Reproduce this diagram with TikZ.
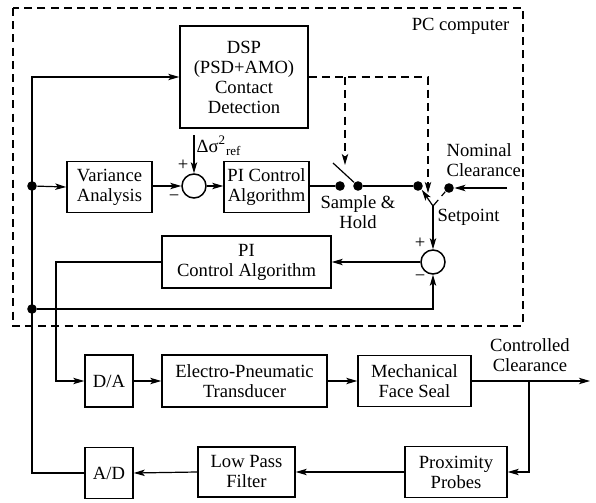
\documentclass[tikz,border=0pt]{standalone}
\usepackage{fontspec}
\setmainfont{Liberation Serif}
\usetikzlibrary{arrows.meta}
\begin{document}
\begin{tikzpicture}[x=0.5pt,y=-0.5pt,
  font=\fontsize{9.3}{10}\selectfont,
  line width=0.6pt,
  >={Stealth[length=5.5pt,width=3.2pt,inset=1.3pt]},
  blk/.style={draw,line width=0.75pt,align=center,inner sep=0pt},
  sumnode/.style={draw,line width=0.75pt,circle,minimum size=12pt,inner sep=0pt},
  dot/.style={circle,fill,inner sep=0pt,minimum size=4.8pt},
  sgn/.style={font=\fontsize{9.3}{9.3}\selectfont,inner sep=0pt},
  ctl/.style={dash pattern=on 4pt off 2.6pt},
  lbl/.style={inner sep=0pt,align=center}]
\useasboundingbox (0,0) rectangle (596,503);

% PC boundary
\draw[ctl] (13,8) rectangle (523,326);
\node[lbl,anchor=east] (pclabel) at (510,26) {PC computer};

% blocks
\node[blk,minimum width=64pt,minimum height=51pt] (dsp) at (244,77)
  {DSP\\(PSD+AMO)\\Contact\\Detection};
\node[blk,minimum width=42.5pt,minimum height=25.5pt] (va) at (109.5,187) {Variance\\Analysis};
\node[sumnode] (s1) at (194,186) {};
\node[blk,minimum width=42.5pt,minimum height=25.5pt] (pi1) at (266.5,187) {PI Control\\Algorithm};
\node[blk,minimum width=84.5pt,minimum height=26pt] (pi2) at (246.5,262) {PI\\Control Algorithm};
\node[sumnode] (s2) at (433,262) {};
\node[blk,minimum width=24pt,minimum height=26pt] (da) at (109,381) {D/A};
\node[blk,minimum width=82.5pt,minimum height=26pt] (ept) at (244.5,381) {Electro-Pneumatic\\Transducer};
\node[blk,minimum width=56.5pt,minimum height=25.5pt] (mfs) at (414.5,381) {Mechanical\\Face Seal};
\node[blk,minimum width=24pt,minimum height=25.5pt] (ad) at (109,473) {A/D};
\node[blk,minimum width=48.5pt,minimum height=25pt] (lpf) at (246.5,472) {Low Pass\\Filter};
\node[blk,minimum width=51pt,minimum height=25.5pt] (pp) at (456,472) {Proximity\\Probes};

% switch contacts and junctions
\node[dot] (vadot) at (32,186) {};
\node[dot] (fbdot) at (32,309) {};
\node[dot] (sh1) at (340,186) {};
\node[dot] (sh2) at (358,186) {};
\node[dot] (sp1) at (418,186) {};
\node[dot] (sp2) at (449,188) {};
\coordinate (shtip) at (333,163);
\coordinate (jn) at (433,206);
\coordinate (nomin) at (507,188);
\coordinate (refin) at (194,135);
\coordinate (bustop) at (32,77);
\coordinate (daturn) at (56,381);
\coordinate (br) at (529,381);
\coordinate (outend) at (590,381);
\coordinate (ctlA) at (345,165);
\coordinate (ctlB) at (428,193);

% variance loop
\draw[->] (vadot) -- (va.west);
\draw[->] (va.east |- s1.west) -- (s1.west);
\draw[->] (refin) -- (s1.north);
\draw[->] (s1.east) -- (pi1.west |- s1.east);
\draw (pi1.east |- sh1) -- (sh1);
\draw (sh2) -- (shtip);
\draw (sh2) -- (sp1);

% setpoint selector
\draw[->] (nomin) -- (sp2.east);
\draw[->] (jn) -- (sp1.south east);
\draw[ctl] (jn) -- (sp2.south west);
\draw[->] (jn) -- (s2.north);

% contact detection commands
\draw[ctl,->] (dsp.east) -| (ctlB);
\draw[ctl,->] (dsp.east -| ctlA) -- (ctlA);

% clearance loop
\draw[->] (s2.west) -- (pi2.east);
\draw[->] (pi2.west) -| (daturn) -- (da.west);
\draw[->] (fbdot) -| (s2.south);
\draw[->] (ad.west) -| (bustop) -- (dsp.west);
\draw[->] (da.east) -- (ept.west);
\draw[->] (ept.east) -- (mfs.west);
\draw[->] (mfs.east) -- (outend);
\draw[->] (br) |- (pp.east);
\draw[->] (pp.west) -- (lpf.east);
\draw[->] (lpf.west) -- (ad.east);

% labels
\node[lbl,anchor=west] (reflabel) at (196,146) {Δσ\textsuperscript{2}\textsubscript{ref}};
\node[sgn] (p1) at (183,165) {+};
\node[sgn] (m1) at (174,198) {−};
\node[sgn] (p2) at (420,243) {+};
\node[sgn] (m2) at (420,278) {−};
\node[lbl] (shlabel) at (358,212) {Sample \&\\Hold};
\node[lbl,anchor=west] (splabel) at (437,217) {Setpoint};
\node[lbl,anchor=west,align=left] (nomlabel) at (446,160) {Nominal\\Clearance};
\node[lbl] (cclabel) at (530,355) {Controlled\\Clearance};
\end{tikzpicture}
\end{document}
